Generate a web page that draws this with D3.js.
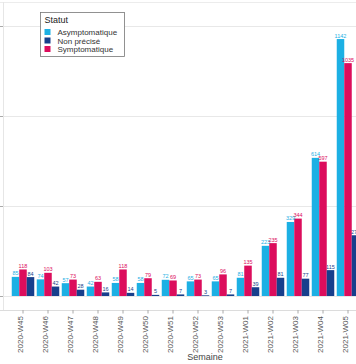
<!DOCTYPE html>
<html><head><meta charset="utf-8">
<script src="https://cdn.jsdelivr.net/npm/d3@7"></script>
<style>
html,body{margin:0;padding:0;background:#fff;}
svg{display:block;font-family:"Liberation Sans",Arial,sans-serif;}
</style></head>
<body><svg id="c" width="356" height="364"></svg>
<script>
const weeks = ["2020-W45","2020-W46","2020-W47","2020-W48","2020-W49","2020-W50","2020-W51","2020-W52","2020-W53","2021-W01","2021-W02","2021-W03","2021-W04","2021-W05"];
const asymptomatique = [85,74,57,42,58,58,72,65,65,81,223,329,614,1142];
const symptomatique  = [118,103,73,63,118,79,69,73,96,135,235,344,597,1035];
const nonPrecise     = [84,42,28,16,14,5,7,3,7,39,81,77,115,270];
const yTicks = [0,400,800,1200];
const seriesNames = ["Asymptomatique","Symptomatique","Non précisé"];
const legendOrder = ["Asymptomatique","Non précisé","Symptomatique"];
const colors = {"Asymptomatique":"#1cb0e4","Non précisé":"#173f8c","Symptomatique":"#dc0d5c"};
const seriesValues = {"Asymptomatique":asymptomatique,"Symptomatique":symptomatique,"Non précisé":nonPrecise};

const svg = d3.select("#c");
const x = d3.scaleBand().domain(weeks).range([10.5, 360.5]).padding(0);
const xs = d3.scaleBand().domain(seriesNames).range([0, x.bandwidth()*0.9]);
const y = d3.scaleLinear().domain([0,1200]).range([296,26]);

// gridlines
svg.append("line").attr("x1",0).attr("x2",356).attr("y1",2.5).attr("y2",2.5).attr("stroke","#ececec");
svg.selectAll(".grid").data(yTicks).join("line").attr("class","grid")
  .attr("x1",3).attr("x2",356).attr("y1",d=>Math.round(y(d))+0.5).attr("y2",d=>Math.round(y(d))+0.5)
  .attr("stroke","#e8e8e8");
// y axis line and ticks (labels cut off)
svg.append("line").attr("x1",3.5).attr("x2",3.5).attr("y1",2).attr("y2",310).attr("stroke","#e6e6e6");
svg.selectAll(".yt").data(yTicks).join("line").attr("class","yt")
  .attr("x1",0).attr("x2",3).attr("y1",d=>Math.round(y(d))+0.5).attr("y2",d=>Math.round(y(d))+0.5)
  .attr("stroke","#aaa");

// bars
const data = [];
weeks.forEach((w,i)=>seriesNames.forEach(s=>data.push({w,s,v:seriesValues[s][i]})));
const off = x.bandwidth()*0.05;
svg.selectAll(".bar").data(data).join("rect").attr("class","bar")
  .attr("x",d=>x(d.w)+off+xs(d.s)).attr("width",xs.bandwidth())
  .attr("y",d=>y(d.v)).attr("height",d=>y(0)-y(d.v)).attr("fill",d=>colors[d.s]);
svg.selectAll(".val").data(data).join("text").attr("class","val")
  .attr("x",d=>x(d.w)+off+xs(d.s)+xs.bandwidth()/2).attr("y",d=>y(d.v)-1.5)
  .attr("text-anchor","middle").attr("font-size",5.5).attr("fill",d=>colors[d.s])
  .text(d=>d.v);

// x axis
const xa = svg.append("g").attr("transform","translate(0,310)");
xa.append("line").attr("x1",0).attr("x2",356).attr("y1",0.5).attr("y2",0.5).attr("stroke","#dcdcdc");
xa.selectAll(".xt").data(weeks).join("line").attr("class","xt")
  .attr("x1",d=>x(d)+x.bandwidth()/2).attr("x2",d=>x(d)+x.bandwidth()/2).attr("y1",0).attr("y2",3.5).attr("stroke","#aaa");
xa.selectAll(".xl").data(weeks).join("text").attr("class","xl")
  .attr("transform",d=>`translate(${x(d)+x.bandwidth()/2-3},6) rotate(-90)`)
  .attr("text-anchor","end").attr("dy","0.35em").attr("font-size",8).attr("fill","#555").text(d=>d);
svg.append("text").attr("x",205).attr("y",360).attr("text-anchor","middle").attr("font-size",9).attr("fill","#444").text("Semaine");

// legend
const lg = svg.append("g").attr("transform","translate(40.5,12.5)");
lg.append("rect").attr("width",84).attr("height",44).attr("fill","#fff").attr("stroke","#777").attr("stroke-width",0.8);
lg.append("text").attr("x",4).attr("y",10).attr("font-size",9).attr("fill","#222").text("Statut");
legendOrder.forEach((s,i)=>{
  lg.append("rect").attr("x",4).attr("y",16.5+i*8.5).attr("width",6).attr("height",6).attr("fill",colors[s]);
  lg.append("text").attr("x",17).attr("y",22.5+i*8.5).attr("font-size",8).attr("fill","#333").text(s);
});
</script></body></html>
